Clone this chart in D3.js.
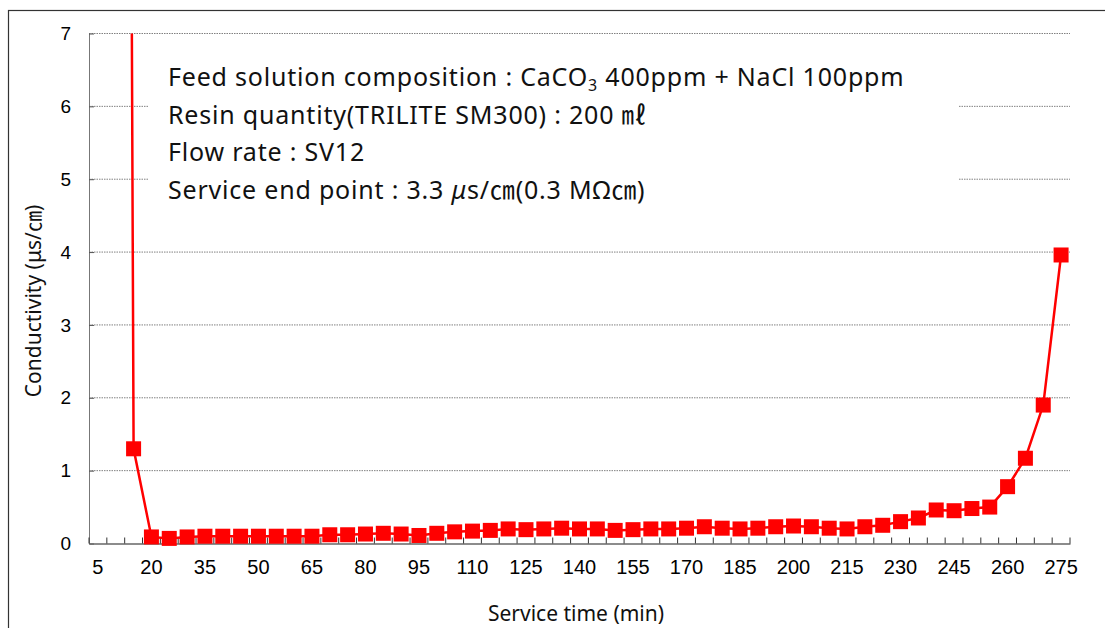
<!DOCTYPE html>
<html>
<head>
<meta charset="utf-8">
<script src="https://cdn.jsdelivr.net/npm/d3@7"></script>
<style>
    body { margin: 0; background: #fff; }
    svg { display: block; }
</style>
</head>
<body>
<div id="chart"></div>
<script>
// Service time categories (min)
const times = [5, 10, 15, 20, 25, 30, 35, 40, 45, 50, 55, 60, 65, 70, 75, 80, 85, 90, 95, 100,
    105, 110, 115, 120, 125, 130, 135, 140, 145, 150, 155, 160, 165, 170, 175, 180, 185, 190,
    195, 200, 205, 210, 215, 220, 225, 230, 235, 240, 245, 250, 255, 260, 265, 270, 275];

// Conductivity (us/cm); the 10 min value is far above the axis
const conductivity = [null, 60, 1.3, 0.09, 0.07, 0.09, 0.10, 0.10, 0.10, 0.10, 0.10, 0.10, 0.10,
    0.12, 0.12, 0.13, 0.14, 0.13, 0.11, 0.14, 0.16, 0.17, 0.18, 0.20, 0.19, 0.20, 0.21, 0.20,
    0.20, 0.18, 0.19, 0.20, 0.20, 0.21, 0.23, 0.21, 0.20, 0.21, 0.23, 0.24, 0.23, 0.21, 0.20,
    0.23, 0.25, 0.30, 0.35, 0.46, 0.45, 0.48, 0.50, 0.78, 1.17, 1.90, 3.96];

const xTickLabels = [5, 20, 35, 50, 65, 80, 95, 110, 125, 140, 155, 170, 185, 200, 215, 230, 245, 260, 275];
const yTicks = [0, 1, 2, 3, 4, 5, 6, 7];

const notes = [
    ['Feed solution composition : CaCO', '3', ' 400ppm + NaCl 100ppm'],
    ['Resin quantity(TRILITE SM300) : 200 ㎖'],
    ['Flow rate : SV12'],
    ['Service end point : 3.3 ', 'μ', 's/㎝(0.3 MΩ㎝)']
];

const config = {
    width: 1105,
    height: 628,
    margin: { left: 89, top: 33.5, right: 35, bottom: 84.5 }
};

const labelFont = '"Noto Sans", "Noto Sans CJK KR", sans-serif';
const numberFont = '"Liberation Sans", Arial, sans-serif';

const svg = d3.select('#chart')
    .append('svg')
    .attr('width', config.width)
    .attr('height', config.height);

// outer frame (runs off the right and bottom edges)
svg.append('rect')
    .attr('x', 8.5)
    .attr('y', 10.5)
    .attr('width', 1200)
    .attr('height', 1000)
    .attr('fill', 'none')
    .attr('stroke', '#333')
    .attr('stroke-width', 1.2);

const innerW = config.width - config.margin.left - config.margin.right;
const innerH = config.height - config.margin.top - config.margin.bottom;

const x = d3.scaleBand()
    .domain(times)
    .range([0, innerW]);

const y = d3.scaleLinear()
    .domain([0, 7])
    .range([innerH, 0]);

const chart = svg.append('g')
    .attr('transform', `translate(${config.margin.left},${config.margin.top})`);

// dotted gridlines
chart.selectAll('.grid')
    .data(yTicks.filter(d => d > 0))
    .join('line')
    .attr('class', 'grid')
    .attr('x1', 0)
    .attr('x2', innerW)
    .attr('y1', d => y(d))
    .attr('y2', d => y(d))
    .attr('stroke', '#808080')
    .attr('stroke-width', 1)
    .attr('stroke-dasharray', '1.5,1');

// y axis
const yAxis = chart.append('g')
    .call(d3.axisLeft(y).tickValues(yTicks).tickFormat(d3.format('d'))
        .tickSize(-5).tickSizeOuter(0).tickPadding(18));
yAxis.select('.domain').attr('stroke', '#777');
yAxis.selectAll('.tick line').attr('stroke', '#555');
yAxis.selectAll('.tick text')
    .attr('font-family', numberFont)
    .attr('font-size', 19)
    .attr('fill', '#000');

// x axis: labels every third category, ticks on band boundaries pointing up
const xAxis = chart.append('g')
    .attr('transform', `translate(0,${innerH})`)
    .call(d3.axisBottom(x).tickValues(xTickLabels).tickSize(0).tickPadding(16));
xAxis.select('.domain').attr('stroke', '#666').attr('stroke-width', 1.5);
xAxis.selectAll('.tick text')
    .attr('font-family', numberFont)
    .attr('font-size', 20)
    .attr('fill', '#000');

chart.append('g')
    .selectAll('line')
    .data(times.map(t => x(t)).concat([innerW]))
    .join('line')
    .attr('x1', d => d)
    .attr('x2', d => d)
    .attr('y1', innerH)
    .attr('y2', innerH - 6)
    .attr('stroke', '#333')
    .attr('stroke-width', 1);

// annotation box hides the gridlines behind the notes
const noteBox = svg.append('g');
noteBox.append('rect')
    .attr('x', 148)
    .attr('y', 46)
    .attr('width', 811)
    .attr('height', 166)
    .attr('fill', '#fff');

notes.forEach((parts, i) => {
    const t = noteBox.append('text')
        .attr('x', 168)
        .attr('y', 86 + i * 37.7)
        .attr('font-family', labelFont)
        .attr('font-size', 25)
        .attr('letter-spacing', 0.8)
        .attr('fill', '#111');
    parts.forEach((p, j) => {
        const span = t.append('tspan').text(p);
        if (p === '3' && i === 0) {
            span.attr('font-size', 16).attr('dy', 5);
        } else if (i === 0 && j === 2) {
            span.attr('dy', -5);
        }
        if (p === 'μ') span.attr('font-style', 'italic');
    });
});

// series line, clipped to the plot area
chart.append('clipPath')
    .attr('id', 'plot-clip')
    .append('rect')
    .attr('width', innerW)
    .attr('height', innerH + 10)
    .attr('y', 0);

const series = times.map((t, i) => ({ time: t, value: conductivity[i] }));

const line = d3.line()
    .defined(d => d.value != null)
    .x(d => x(d.time) + x.bandwidth() / 2)
    .y(d => y(d.value));

chart.append('path')
    .datum(series)
    .attr('clip-path', 'url(#plot-clip)')
    .attr('d', line)
    .attr('fill', 'none')
    .attr('stroke', '#ff0000')
    .attr('stroke-width', 2.5);

const markerSize = 15;
chart.selectAll('.marker')
    .data(series.filter(d => d.value != null && d.value <= 7))
    .join('rect')
    .attr('class', 'marker')
    .attr('x', d => x(d.time) + x.bandwidth() / 2 - markerSize / 2)
    .attr('y', d => y(d.value) - markerSize / 2)
    .attr('width', markerSize)
    .attr('height', markerSize)
    .attr('fill', '#ff0000');

// axis titles
svg.append('text')
    .attr('x', 576)
    .attr('y', 621)
    .attr('text-anchor', 'middle')
    .attr('font-family', labelFont)
    .attr('font-size', 21)
    .attr('fill', '#111')
    .text('Service time (min)');

svg.append('text')
    .attr('transform', 'translate(41,301) rotate(-90)')
    .attr('text-anchor', 'middle')
    .attr('font-family', labelFont)
    .attr('font-size', 21)
    .attr('fill', '#111')
    .text('Conductivity (μs/㎝)');
</script>
</body>
</html>
